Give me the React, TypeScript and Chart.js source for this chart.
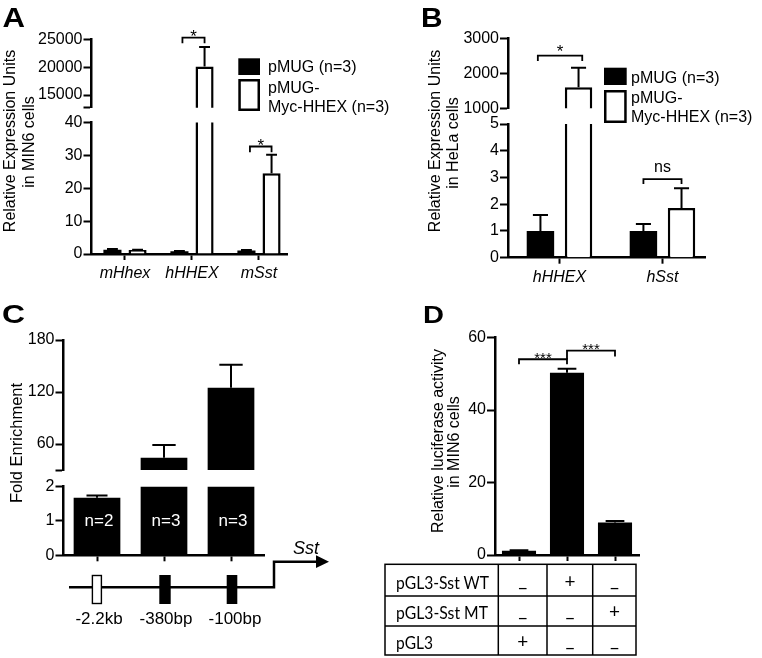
import React, { useEffect, useRef } from 'react';
import { Chart, registerables } from 'chart.js';

Chart.register(...registerables);

const FONT = '"Liberation Sans", Arial, Helvetica, sans-serif';
const TABLE_FONT = 'Lato, "Open Sans", sans-serif';
Chart.defaults.font.family = FONT;
Chart.defaults.font.size = 16;
Chart.defaults.color = '#000';

// ---------- Panel A ----------
const A_CATEGORIES = ['mHhex', 'hHHEX', 'mSst'];
const A_PMUG = [1.3, 0.8, 1.1];
const A_PMUG_ERR = [1.5, 0.9, 1.2];
const A_HHEX = [1.2, 20100, 24.6];
const A_HHEX_ERR = [1.3, 23600, 30.2];
const A_LOWER_TICKS = [0, 10, 20, 30, 40];
const A_UPPER_TICKS = [15000, 20000, 25000];
const A_UPPER_MIN = 12720;

// ---------- Panel B ----------
const B_CATEGORIES = ['hHHEX', 'hSst'];
const B_PMUG = [1.0, 1.0];
const B_PMUG_ERR = [1.6, 1.26];
const B_HHEX = [1600, 1.86];
const B_HHEX_ERR = [2160, 2.6];
const B_LOWER_TICKS = [0, 1, 2, 3, 4, 5];
const B_UPPER_TICKS = [1000, 2000, 3000];

// ---------- Panel C ----------
const C_REGIONS = ['-2.2kb', '-380bp', '-100bp'];
const C_VALUES = [1.68, 44.2, 125];
const C_ERR = [1.74, 58.8, 151.5];
const C_N = ['n=2', 'n=3', 'n=3'];
const C_LOWER_TICKS = [0, 1, 2];
const C_UPPER_TICKS = [60, 120, 180];
const C_UPPER_MIN = 30;

// ---------- Panel D ----------
const D_CONSTRUCTS = ['pGL3', 'pGL3-Sst WT', 'pGL3-Sst MT'];
const D_VALUES = [1.2, 50.3, 9.0];
const D_ERR = [1.3, 51.4, 9.4];
const D_TICKS = [0, 20, 40, 60];
const D_TABLE_ROWS = ['pGL3-Sst WT', 'pGL3-Sst MT', 'pGL3'];

// ---------- Texts ----------
const A_TITLE = ['Relative Expression Units', 'in MIN6 cells'];
const B_TITLE = ['Relative Expression Units', 'in HeLa cells'];
const C_TITLE = 'Fold Enrichment';
const D_TITLE = ['Relative luciferase activity', 'in MIN6 cells'];
const LEGEND = ['pMUG (n=3)', 'pMUG-', 'Myc-HHEX (n=3)'];
const GENE = 'Sst';

type Bracket = {
  d0: number; i0: number; d1: number; i1: number; y: number;
  legL: number; legR: number; text: string; size: number; textDy: number;
  dx0?: number; dx1?: number;
};

type Seg = {
  key: string;
  area: [number, number, number, number];
  padTop: number; padRight: number; padBottom: number; yAxisW: number; xAxisH: number;
  showX: boolean; showXLabels: boolean; labels: string[]; xRange?: number;
  datasets: { data: number[]; errors?: number[]; fill: string; borderWidth: number }[];
  yMin: number; yMax: number; yTicks: number[]; yBlank?: number[];
  catPct: number; barPct: number; capFrac: number;
  brackets?: Bracket[];
  inside?: { texts: string[]; value: number; size: number };
};

const A_SETS = [
  { data: A_PMUG, errors: A_PMUG_ERR, fill: '#000', borderWidth: 0 },
  { data: A_HHEX, errors: A_HHEX_ERR, fill: '#fff', borderWidth: 2.5 },
];
const B_SETS = [
  { data: B_PMUG, errors: B_PMUG_ERR, fill: '#000', borderWidth: 0 },
  { data: B_HHEX, errors: B_HHEX_ERR, fill: '#fff', borderWidth: 2.5 },
];
const C_SETS = [{ data: C_VALUES, errors: C_ERR, fill: '#000', borderWidth: 0 }];
const D_SETS = [{ data: D_VALUES, errors: D_ERR, fill: '#000', borderWidth: 0 }];

const SEGMENTS: Seg[] = [
  {
    key: 'A-up', area: [91.5, 39.3, 287, 107.7], padTop: 28, padRight: 8, padBottom: 12, yAxisW: 60, xAxisH: 0,
    showX: false, showXLabels: false, labels: A_CATEGORIES, xRange: 2.918, datasets: A_SETS,
    yMin: A_UPPER_MIN, yMax: 25000, yTicks: [A_UPPER_MIN, ...A_UPPER_TICKS], yBlank: [A_UPPER_MIN],
    catPct: 0.75, barPct: 0.72, capFrac: 0.6,
    brackets: [{ d0: 0, i0: 1, d1: 1, i1: 1, y: 25290, legL: 5.6, legR: 5.6, text: '*', size: 17, textDy: 4.8, dx0: 3 }],
  },
  {
    key: 'A-low', area: [91.5, 122.5, 287, 254], padTop: 14, padRight: 12, padBottom: 2, yAxisW: 60, xAxisH: 30,
    showX: true, showXLabels: true, labels: A_CATEGORIES, xRange: 2.918, datasets: A_SETS,
    yMin: 0, yMax: 40, yTicks: A_LOWER_TICKS,
    catPct: 0.75, barPct: 0.72, capFrac: 0.6,
    brackets: [{ d0: 0, i0: 2, d1: 1, i1: 2, y: 32.7, legL: 5.7, legR: 5.7, text: '*', size: 17, textDy: 4.2, dx0: 3.5 }],
  },
  {
    key: 'B-up', area: [508, 38.3, 705, 108.3], padTop: 20, padRight: 8, padBottom: 12, yAxisW: 60, xAxisH: 0,
    showX: false, showXLabels: false, labels: B_CATEGORIES, xRange: 1.913, datasets: B_SETS,
    yMin: 1000, yMax: 3000, yTicks: B_UPPER_TICKS,
    catPct: 0.74, barPct: 0.72, capFrac: 0.55,
    brackets: [{ d0: 0, i0: 0, d1: 1, i1: 0, y: 2503, legL: 5.3, legR: 5.3, text: '*', size: 17, textDy: 1.8, dx0: -2.6, dx1: 3.7 }],
  },
  {
    key: 'B-low', area: [508, 124, 705, 257.7], padTop: 14, padRight: 12, padBottom: 2, yAxisW: 60, xAxisH: 30,
    showX: true, showXLabels: true, labels: B_CATEGORIES, xRange: 1.913, datasets: B_SETS,
    yMin: 0, yMax: 5, yTicks: B_LOWER_TICKS,
    catPct: 0.74, barPct: 0.72, capFrac: 0.55,
    brackets: [{ d0: 0, i0: 1, d1: 1, i1: 1, y: 2.94, legL: 5, legR: 5, text: 'ns', size: 16, textDy: -7.3 }],
  },
  {
    key: 'C-up', area: [63.5, 340, 264.5, 470], padTop: 14, padRight: 8, padBottom: 12, yAxisW: 50, xAxisH: 0,
    showX: false, showXLabels: false, labels: C_REGIONS, datasets: C_SETS,
    yMin: C_UPPER_MIN, yMax: 180, yTicks: [C_UPPER_MIN, ...C_UPPER_TICKS], yBlank: [C_UPPER_MIN],
    catPct: 1, barPct: 0.697, capFrac: 0.5,
  },
  {
    key: 'C-low', area: [63.5, 486.7, 264.5, 555.3], padTop: 14, padRight: 8, padBottom: 2, yAxisW: 50, xAxisH: 12,
    showX: true, showXLabels: false, labels: C_REGIONS, datasets: C_SETS,
    yMin: 0, yMax: 2, yTicks: C_LOWER_TICKS,
    catPct: 1, barPct: 0.697, capFrac: 0.45,
    inside: { texts: C_N, value: 1, size: 17 },
  },
  {
    key: 'D', area: [495, 337.5, 639, 555], padTop: 14, padRight: 8, padBottom: 2, yAxisW: 50, xAxisH: 12,
    showX: true, showXLabels: false, labels: D_CONSTRUCTS, datasets: D_SETS,
    yMin: 0, yMax: 60, yTicks: D_TICKS,
    catPct: 1, barPct: 0.71, capFrac: 0.55,
    brackets: [
      { d0: 0, i0: 0, d1: 0, i1: 1, y: 54, legL: 5, legR: 5, text: '***', size: 15, textDy: 4 },
      { d0: 0, i0: 1, d1: 0, i1: 2, y: 56.4, legL: 8.6, legR: 6, text: '***', size: 15, textDy: 3.2 },
    ],
  },
];

function makePlugins(seg: Seg) {
  const errPlugin = {
    id: 'errbars-' + seg.key,
    afterDatasetsDraw(chart: any) {
      const { ctx, chartArea } = chart;
      const ys = chart.scales.y;
      ctx.save();
      ctx.beginPath();
      ctx.rect(chartArea.left, chartArea.top, chartArea.right - chartArea.left, chartArea.bottom - chartArea.top);
      ctx.clip();
      ctx.strokeStyle = '#000';
      ctx.lineWidth = 2;
      chart.data.datasets.forEach((ds: any, di: number) => {
        const errs = ds.errors;
        if (!errs) return;
        const meta = chart.getDatasetMeta(di);
        meta.data.forEach((bar: any, i: number) => {
          const v = ds.data[i];
          const e = errs[i];
          if (e == null) return;
          const p0 = ys.getPixelForValue(v);
          const p1 = ys.getPixelForValue(e);
          const w = bar.width * seg.capFrac;
          ctx.beginPath();
          ctx.moveTo(bar.x, p0);
          ctx.lineTo(bar.x, p1);
          ctx.moveTo(bar.x - w / 2, p1);
          ctx.lineTo(bar.x + w / 2, p1);
          ctx.stroke();
        });
      });
      ctx.restore();
      if (seg.inside) {
        ctx.save();
        ctx.fillStyle = '#fff';
        ctx.font = `${seg.inside.size}px ${FONT}`;
        ctx.textAlign = 'center';
        ctx.textBaseline = 'middle';
        const meta = chart.getDatasetMeta(0);
        meta.data.forEach((bar: any, i: number) => {
          ctx.fillText(seg.inside!.texts[i], bar.x + 2, ys.getPixelForValue(seg.inside!.value));
        });
        ctx.restore();
      }
    },
    afterDraw(chart: any) {
      if (!seg.brackets) return;
      const { ctx } = chart;
      const ys = chart.scales.y;
      ctx.save();
      ctx.strokeStyle = '#000';
      ctx.fillStyle = '#000';
      ctx.lineWidth = 1.8;
      seg.brackets.forEach((b) => {
        const m0 = chart.getDatasetMeta(b.d0).data[b.i0];
        const m1 = chart.getDatasetMeta(b.d1).data[b.i1];
        const x0 = m0.x + (b.dx0 || 0);
        const x1 = m1.x + (b.dx1 || 0);
        const yy = ys.getPixelForValue(b.y);
        ctx.beginPath();
        ctx.moveTo(x0, yy + b.legL);
        ctx.lineTo(x0, yy);
        ctx.lineTo(x1, yy);
        ctx.lineTo(x1, yy + b.legR);
        ctx.stroke();
        ctx.font = `${b.size}px ${FONT}`;
        ctx.textAlign = 'center';
        ctx.textBaseline = 'alphabetic';
        ctx.fillText(b.text, (x0 + x1) / 2, yy + b.textDy);
      });
      ctx.restore();
    },
  };
  return [errPlugin];
}

function SegChart({ seg }: { seg: Seg }) {
  const ref = useRef<HTMLCanvasElement>(null);
  const [l, t, r, b] = seg.area;
  const cl = Math.floor(l - seg.yAxisW);
  const ct = Math.floor(t - seg.padTop);
  const cr = Math.ceil(r + seg.padRight);
  const cb = Math.ceil(b + seg.xAxisH + seg.padBottom);
  useEffect(() => {
    if (!ref.current) return;
    const blank = seg.yBlank || [];
    const chart = new Chart(ref.current, {
      type: 'bar',
      data: {
        labels: seg.labels,
        datasets: seg.datasets.map((d) => ({
          data: d.data,
          errors: d.errors,
          backgroundColor: d.fill,
          borderColor: '#000',
          borderWidth: d.borderWidth,
          borderSkipped: 'start',
          categoryPercentage: seg.catPct,
          barPercentage: seg.barPct,
          clip: 0,
        })) as any,
      },
      options: {
        animation: false,
        responsive: true,
        maintainAspectRatio: false,
        devicePixelRatio: 1,
        events: [],
        layout: { padding: { top: t - ct, right: cr - r, bottom: cb - b - seg.xAxisH, left: 0 } },
        plugins: { legend: { display: false }, tooltip: { enabled: false } },
        scales: {
          x: {
            type: 'category',
            display: seg.showX,
            offset: true,
            grid: { display: true, offset: false, drawOnChartArea: false, drawTicks: true, tickLength: 6, tickWidth: 2, tickColor: '#000', color: '#000' },
            border: { display: true, color: '#000', width: 2.5 },
            ticks: { display: seg.showXLabels, color: '#000', font: { size: 16, style: 'italic' }, padding: 4, maxRotation: 0, autoSkip: false },
            afterBuildTicks: (s: any) => { if (seg.xRange) s._valueRange = seg.xRange; },
            afterFit: (s: any) => { s.height = seg.xAxisH; },
          } as any,
          y: {
            type: 'linear',
            min: seg.yMin,
            max: seg.yMax,
            beginAtZero: false,
            afterBuildTicks: (s: any) => { s.ticks = seg.yTicks.map((v) => ({ value: v })); },
            ticks: {
              color: '#000', font: { size: 16 }, padding: 1,
              callback: (v: any) => (blank.includes(Number(v)) ? '' : String(v)),
            },
            grid: { display: true, drawOnChartArea: false, drawTicks: true, tickLength: 8, tickWidth: 2, tickColor: '#000', color: '#000' },
            border: { display: true, color: '#000', width: 2.5 },
            afterFit: (s: any) => { s.width = l - cl; },
          } as any,
        },
      },
      plugins: makePlugins(seg) as any,
    });
    return () => chart.destroy();
  }, []);
  return (
    <div style={{ position: 'absolute', left: cl, top: ct, width: cr - cl, height: cb - ct }}>
      <canvas ref={ref} />
    </div>
  );
}

function Overlay() {
  const rot = (x: number, y: number) => `translate(${x},${y}) rotate(-90)`;
  const tableCols = [522.7, 569.9, 614.4];
  const rowBase = [588.5, 618.5, 648.5];
  const rowWidth = [93, 92, 37];
  return (
    <svg width={762} height={658} style={{ position: 'absolute', left: 0, top: 0, pointerEvents: 'none' }}
      fontFamily={FONT} fill="#000">
      {/* panel letters */}
      <text x={2.5} y={26.7} fontSize={27} fontWeight="bold" textLength={22.5} lengthAdjust="spacingAndGlyphs">A</text>
      <text x={421} y={26.7} fontSize={27} fontWeight="bold" textLength={21.5} lengthAdjust="spacingAndGlyphs">B</text>
      <text x={2} y={322.5} fontSize={25} fontWeight="bold" textLength={23} lengthAdjust="spacingAndGlyphs">C</text>
      <text x={423} y={322.7} fontSize={23} fontWeight="bold" textLength={21} lengthAdjust="spacingAndGlyphs">D</text>

      {/* y titles */}
      <text transform={rot(9, 141)} fontSize={16} textAnchor="middle" dominantBaseline="central">{A_TITLE[0]}</text>
      <text transform={rot(28, 142)} fontSize={16} textAnchor="middle" dominantBaseline="central">{A_TITLE[1]}</text>
      <text transform={rot(434, 141)} fontSize={16} textAnchor="middle" dominantBaseline="central">{B_TITLE[0]}</text>
      <text transform={rot(452, 143)} fontSize={16} textAnchor="middle" dominantBaseline="central">{B_TITLE[1]}</text>
      <text transform={rot(16, 443)} fontSize={16.5} textAnchor="middle" dominantBaseline="central">{C_TITLE}</text>
      <text transform={rot(437, 441)} fontSize={16} textAnchor="middle" dominantBaseline="central">{D_TITLE[0]}</text>
      <text transform={rot(453, 442)} fontSize={16} textAnchor="middle" dominantBaseline="central">{D_TITLE[1]}</text>

      {/* legend A */}
      <rect x={238.3} y={58.3} width={21.7} height={16.7} fill="#000" />
      <rect x={239.55} y={80.25} width={19.2} height={29.5} fill="#fff" stroke="#000" strokeWidth={2.5} />
      <text x={268} y={72.4} fontSize={16}>{LEGEND[0]}</text>
      <text x={268} y={92.9} fontSize={16}>{LEGEND[1]}</text>
      <text x={268} y={111.7} fontSize={16}>{LEGEND[2]}</text>

      {/* legend B */}
      <rect x={604} y={67.7} width={22.7} height={17.3} fill="#000" />
      <rect x={605.25} y={91.25} width={20.2} height={30.5} fill="#fff" stroke="#000" strokeWidth={2.5} />
      <text x={631} y={82.7} fontSize={16}>{LEGEND[0]}</text>
      <text x={631} y={103.4} fontSize={16}>{LEGEND[1]}</text>
      <text x={631} y={122.4} fontSize={16}>{LEGEND[2]}</text>

      {/* gene diagram */}
      <polyline points="69,587.3 274,587.3 274,561.7 318,561.7" fill="none" stroke="#000" strokeWidth={2.5} />
      <polygon points="329,561.7 316,555.3 316,568.1" fill="#000" />
      <rect x={92.4} y={575.5} width={9} height={28} fill="#fff" stroke="#000" strokeWidth={1.4} />
      <rect x={159.3} y={575} width={11.4} height={29} fill="#000" />
      <rect x={226.7} y={575} width={10.6} height={29} fill="#000" />
      <text x={293} y={554} fontSize={18} fontStyle="italic">{GENE}</text>
      {C_REGIONS.map((s, i) => (
        <text key={s} x={[99, 166, 235][i]} y={624} fontSize={17} textAnchor="middle">{s}</text>
      ))}

      {/* table D */}
      <rect x={385} y={564.3} width={251} height={90.7} fill="none" stroke="#000" strokeWidth={1.5} />
      <line x1={385} y1={596} x2={636} y2={596} stroke="#000" strokeWidth={1.5} />
      <line x1={385} y1={626} x2={636} y2={626} stroke="#000" strokeWidth={1.5} />
      {[498.3, 547, 592.7].map((x) => (
        <line key={x} x1={x} y1={564.3} x2={x} y2={655} stroke="#000" strokeWidth={1.5} />
      ))}
      {D_TABLE_ROWS.map((row, ri) => (
        <g key={row}>
          <text x={396} y={rowBase[ri]} fontSize={18} fontFamily={TABLE_FONT}
            textLength={rowWidth[ri]} lengthAdjust="spacingAndGlyphs">{row}</text>
          {D_CONSTRUCTS.map((col, ci) => {
            const plus = col === row;
            return plus ? (
              <text key={col} x={tableCols[ci]} y={rowBase[ri] - 1} fontSize={19} fontFamily={TABLE_FONT} textAnchor="middle">+</text>
            ) : (
              <text key={col} x={tableCols[ci]} y={rowBase[ri] + 5} fontSize={19} fontFamily={TABLE_FONT} textAnchor="middle">–</text>
            );
          })}
        </g>
      ))}
    </svg>
  );
}

export default function App() {
  return (
    <div style={{ position: 'absolute', left: 0, top: 0, width: 762, height: 658, background: '#fff', overflow: 'hidden' }}>
      {SEGMENTS.map((s) => (
        <SegChart key={s.key} seg={s} />
      ))}
      <Overlay />
    </div>
  );
}
